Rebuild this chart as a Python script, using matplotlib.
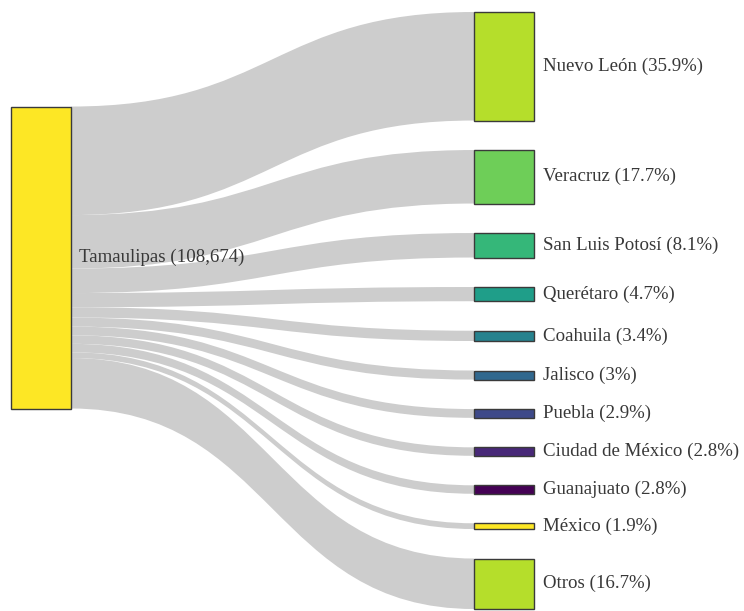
import numpy as np
import matplotlib.pyplot as plt
from matplotlib.path import Path
from matplotlib.patches import PathPatch, Rectangle

# data
source = 'Tamaulipas'
total = 108674
targets = ['Nuevo León', 'Veracruz', 'San Luis Potosí', 'Querétaro', 'Coahuila',
           'Jalisco', 'Puebla', 'Ciudad de México', 'Guanajuato', 'México', 'Otros']
shares = [35.9, 17.7, 8.1, 4.7, 3.4, 3, 2.9, 2.8, 2.8, 1.9, 16.7]

# viridis (10, reversed), cycled over the nodes
palette = ['#fde725', '#b5de2b', '#6ece58', '#35b779', '#1f9e89',
           '#26828e', '#31688e', '#3e4989', '#482878', '#440154']

plt.rcParams['font.family'] = ['Liberation Serif', 'DejaVu Serif']

W, H = 744, 611
fig = plt.figure(figsize=(W / 100, H / 100), dpi=100)
ax = fig.add_axes([0, 0, 1, 1])
ax.set_xlim(0, W)
ax.set_ylim(H, 0)
ax.axis('off')

# layout (pixels)
x_src, x_tgt, node_w = 11, 474, 60
y_top, y_bot, pad = 12, 609, 29.5
vals = np.array(shares, dtype=float)
n = len(vals)
k = (y_bot - y_top - pad * (n - 1)) / vals.sum()
heights = vals * k
tops = y_top + np.concatenate([[0], np.cumsum(heights[:-1] + pad)])
centers = tops + heights / 2
src_h = vals.sum() * k
src_top = np.sum(vals * centers) / vals.sum() - src_h / 2

link_color = '#cdcdcd'
edge = '#3a3a3a'
text_color = '#383838'
fs = 13.6

# links
x0 = x_src + node_w
x1 = x_tgt
xm = (x0 + x1) / 2
s = src_top
for h, t in zip(heights, tops):
    verts = [(x0, s), (xm, s), (xm, t), (x1, t),
             (x1, t + h), (xm, t + h), (xm, s + h), (x0, s + h), (x0, s)]
    codes = [Path.MOVETO, Path.CURVE4, Path.CURVE4, Path.CURVE4,
             Path.LINETO, Path.CURVE4, Path.CURVE4, Path.CURVE4, Path.CLOSEPOLY]
    ax.add_patch(PathPatch(Path(verts, codes), facecolor=link_color,
                           edgecolor='none', zorder=1))
    s += h

# source node
ax.add_patch(Rectangle((x_src, src_top), node_w, src_h, facecolor=palette[0],
                       edgecolor=edge, lw=1, zorder=2))
ax.text(x0 + 8, src_top + src_h / 2, f'{source} ({total:,})', ha='left',
        va='center', fontsize=fs, color=text_color, zorder=3)

# target nodes
for i, (name, v, h, t) in enumerate(zip(targets, shares, heights, tops)):
    ax.add_patch(Rectangle((x_tgt, t), node_w, h,
                           facecolor=palette[(i + 1) % len(palette)],
                           edgecolor=edge, lw=1, zorder=2))
    ax.text(x_tgt + node_w + 9, t + h / 2, f'{name} ({v:g}%)', ha='left',
            va='center', fontsize=fs, color=text_color, zorder=3)

fig.savefig('out.png', dpi=100)
